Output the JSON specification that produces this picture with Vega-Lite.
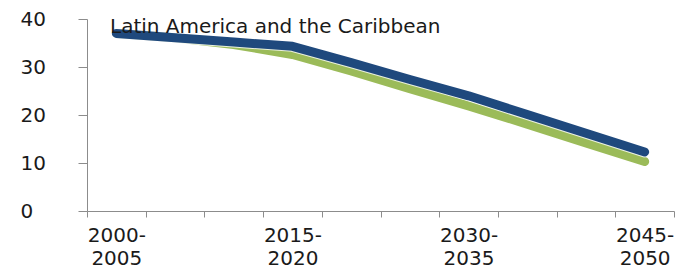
{
  "$schema": "https://vega.github.io/schema/vega-lite/v6.json",
  "autosize": "none",
  "width": 587,
  "height": 192,
  "padding": {"left": 87, "top": 19, "right": 15, "bottom": 59},
  "background": "white",
  "config": {
    "view": {"stroke": null},
    "font": "DejaVu Sans",
    "axis": {"grid": false, "domainColor": "#8c8c8c", "tickColor": "#8c8c8c", "labelColor": "#1a1a1a", "labelFont": "DejaVu Sans", "labelFontSize": 20, "title": null}
  },
  "title": {
    "text": "Latin America and the Caribbean",
    "anchor": "start",
    "frame": "group",
    "orient": "top",
    "baseline": "alphabetic",
    "offset": -44,
    "dx": 23,
    "font": "DejaVu Sans",
    "fontSize": 20,
    "fontWeight": "normal",
    "color": "#1a1a1a"
  },
  "data": {
    "values": [
      {"start": 2000, "series": "A", "value": 37.0},
      {"start": 2005, "series": "A", "value": 36.1},
      {"start": 2010, "series": "A", "value": 35.2},
      {"start": 2015, "series": "A", "value": 34.3},
      {"start": 2020, "series": "A", "value": 30.9},
      {"start": 2025, "series": "A", "value": 27.4},
      {"start": 2030, "series": "A", "value": 24.0},
      {"start": 2035, "series": "A", "value": 20.1},
      {"start": 2040, "series": "A", "value": 16.2},
      {"start": 2045, "series": "A", "value": 12.3},
      {"start": 2000, "series": "B", "value": 37.0},
      {"start": 2005, "series": "B", "value": 36.1},
      {"start": 2010, "series": "B", "value": 34.7},
      {"start": 2015, "series": "B", "value": 32.6},
      {"start": 2020, "series": "B", "value": 29.2},
      {"start": 2025, "series": "B", "value": 25.5},
      {"start": 2030, "series": "B", "value": 21.9},
      {"start": 2035, "series": "B", "value": 18.1},
      {"start": 2040, "series": "B", "value": 14.2},
      {"start": 2045, "series": "B", "value": 10.3}
    ]
  },
  "encoding": {
    "x": {
      "field": "start", "type": "quantitative",
      "scale": {"domain": [1997.5, 2047.5], "nice": false, "zero": false},
      "axis": {
        "values": [1997.5, 2002.5, 2007.5, 2012.5, 2017.5, 2022.5, 2027.5, 2032.5, 2037.5, 2042.5, 2047.5],
        "tickSize": 6,
        "labelPadding": 8,
        "labelOffset": -29.35,
        "labelAlign": "center",
        "labelBaseline": "top",
        "labelLineHeight": 23,
        "labelOverlap": false,
        "labelBound": false,
        "labelFlush": false,
        "labelExpr": "indexof([2002.5, 2017.5, 2032.5, 2047.5], datum.value) >= 0 ? [(datum.value - 2.5) + '-', (datum.value + 2.5) + ''] : ''"
      }
    },
    "y": {
      "field": "value", "type": "quantitative",
      "scale": {"domain": [0, 40], "nice": false},
      "axis": {
        "values": [0, 10, 20, 30, 40],
        "tickSize": 9,
        "labelAlign": "left",
        "labelPadding": 58,
        "labelBaseline": "middle"
      }
    }
  },
  "layer": [
    {
      "transform": [{"filter": "datum.series == 'B'"}],
      "mark": {"type": "line", "color": "#9bbb59", "strokeWidth": 9, "strokeCap": "round", "strokeJoin": "round"}
    },
    {
      "transform": [{"filter": "datum.series == 'A'"}],
      "mark": {"type": "line", "color": "#ffffff", "strokeWidth": 11, "strokeCap": "round", "strokeJoin": "round", "opacity": 0.8}
    },
    {
      "transform": [{"filter": "datum.series == 'A'"}],
      "mark": {"type": "line", "color": "#1f497d", "strokeWidth": 9, "strokeCap": "round", "strokeJoin": "round"}
    }
  ]
}
